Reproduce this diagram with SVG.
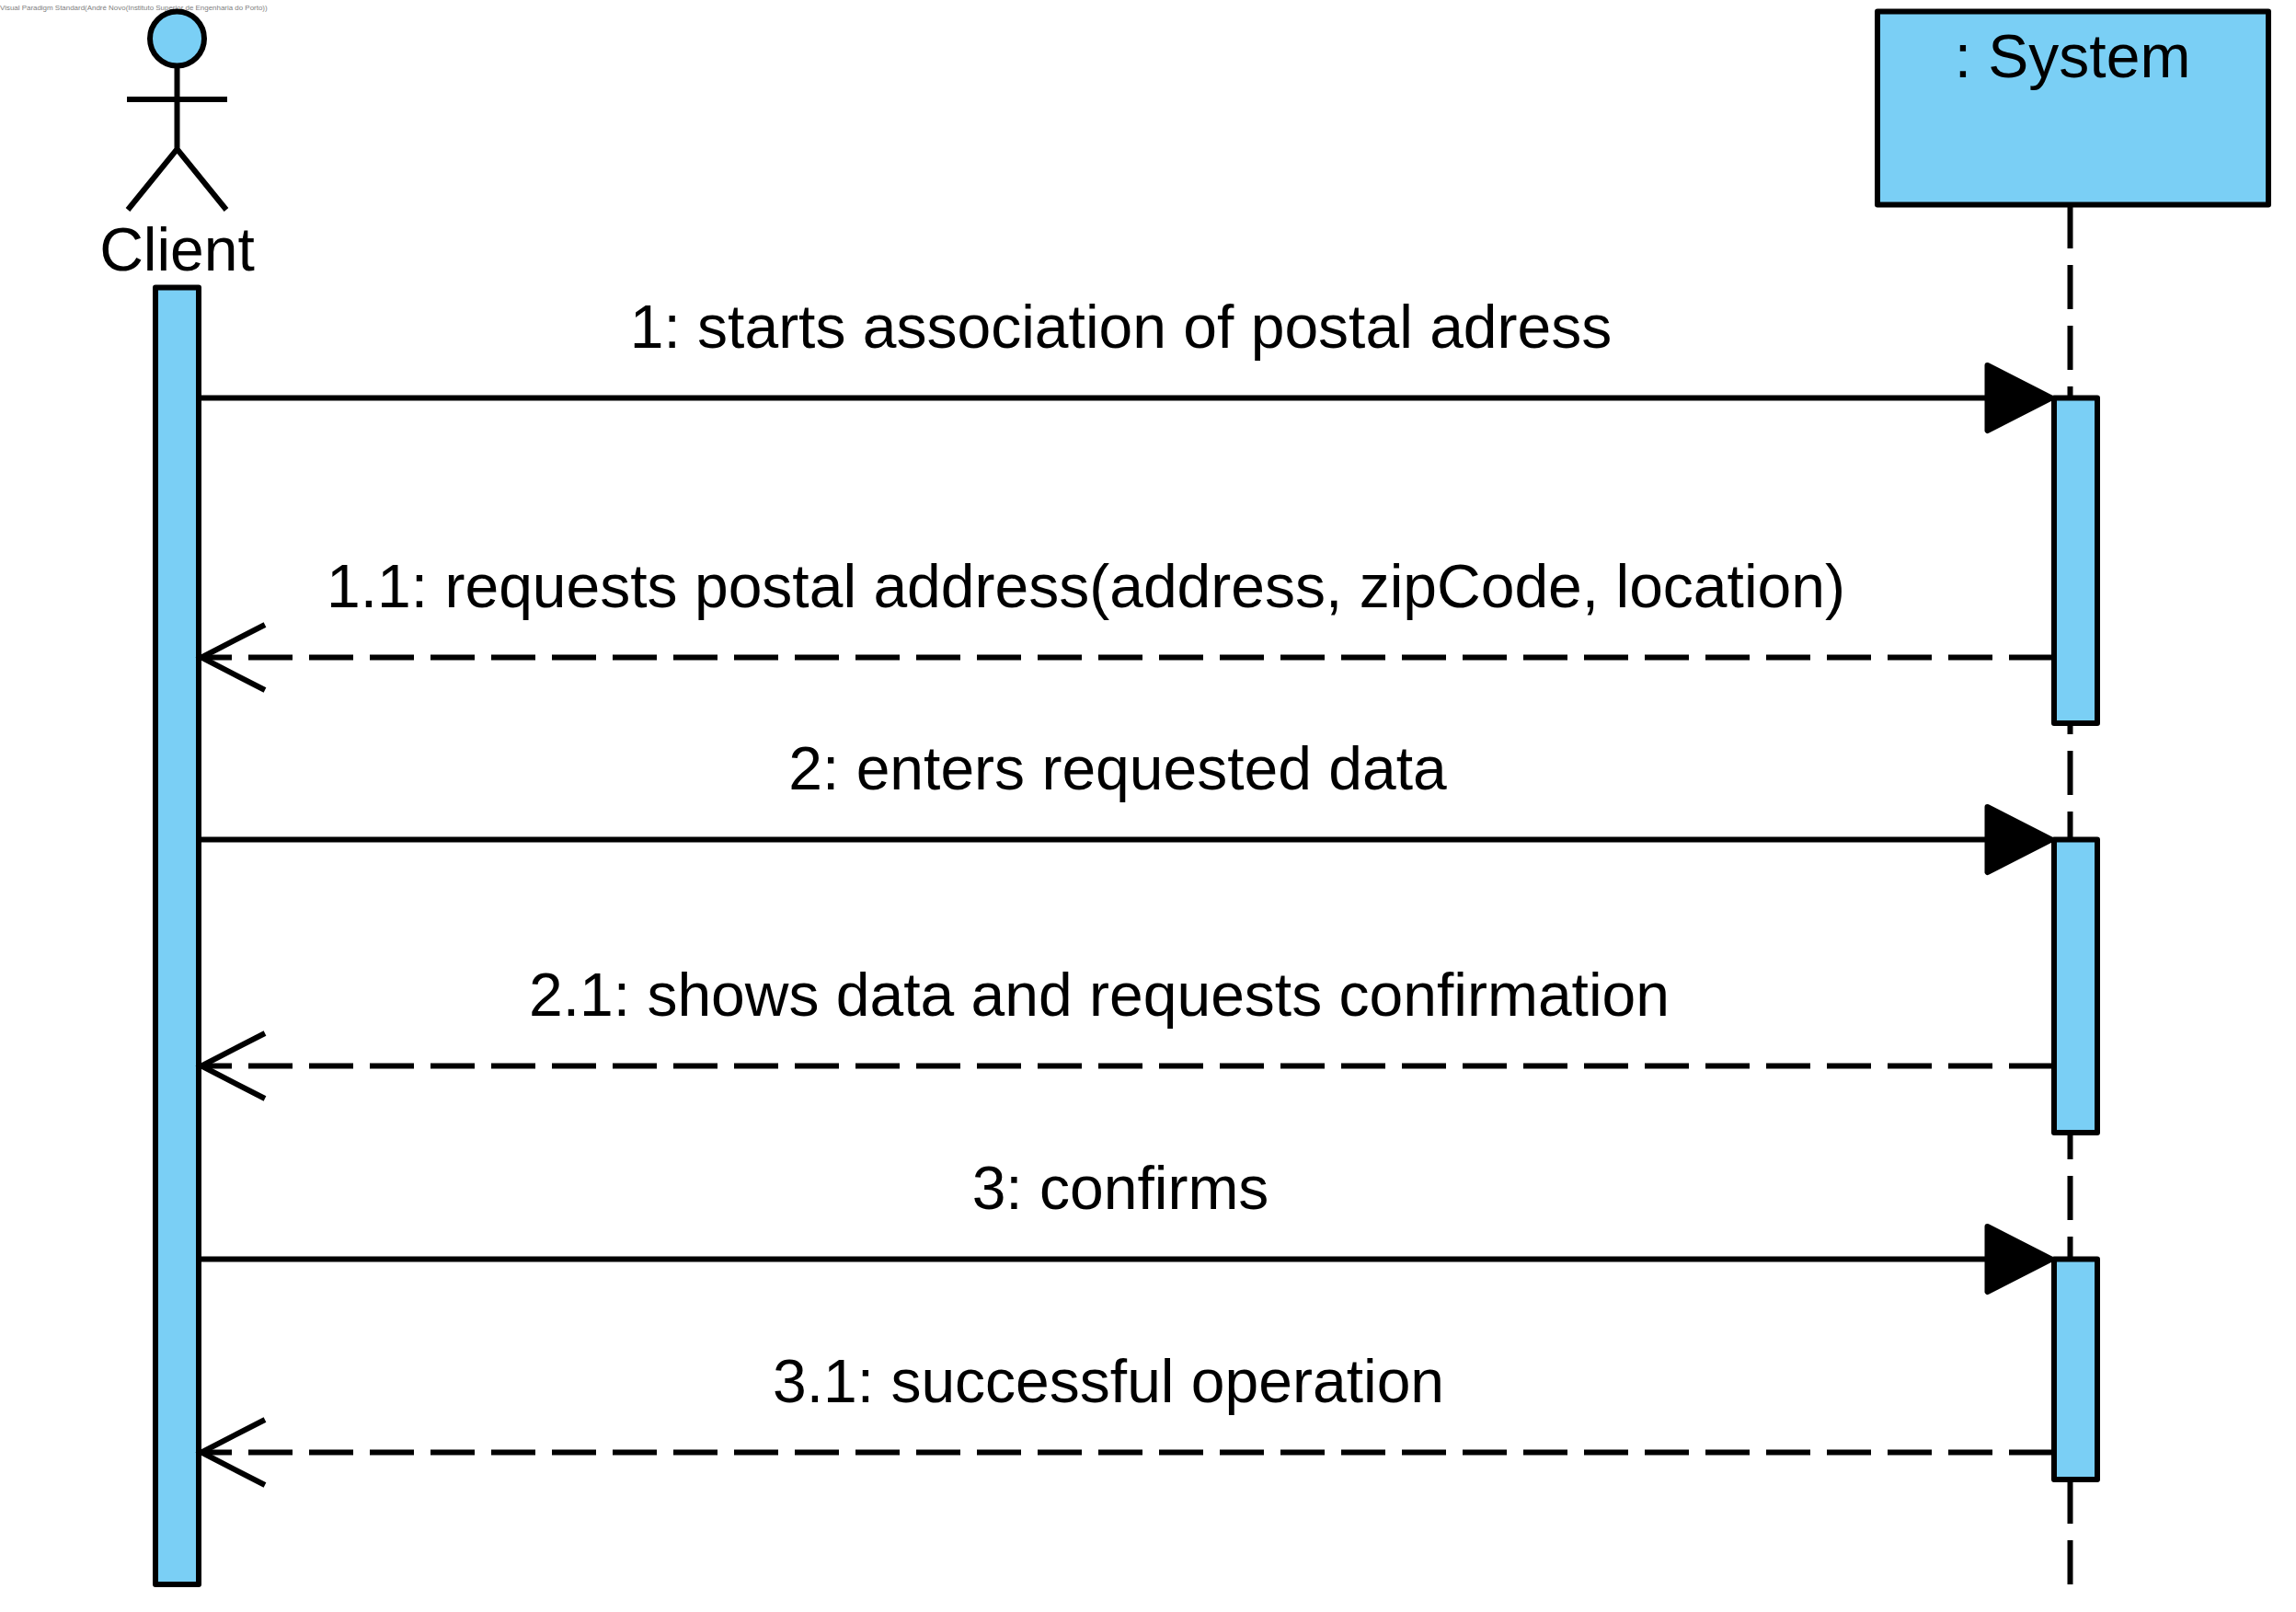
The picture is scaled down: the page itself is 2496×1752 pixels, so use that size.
<svg xmlns="http://www.w3.org/2000/svg" width="2496" height="1752" viewBox="0 0 2496 1752">
<style>
text{font-family:"Liberation Sans",Arial,sans-serif;fill:#000}
.lbl{font-size:66px;text-anchor:middle}
.box{fill:#7ACFF5;stroke:#000;stroke-width:6;stroke-linejoin:round}
.ln{fill:none;stroke:#000;stroke-width:6}
.dash{stroke-dasharray:48 18}
.solidhead{fill:#000;stroke:#000;stroke-width:6;stroke-linejoin:round}
</style>
<rect width="2496" height="1752" fill="#fff"/>
<text x="0" y="10.500" font-size="7.95" style="fill:#808080">Visual Paradigm Standard(André Novo(Instituto Superior de Engenharia do Porto))</text>
<g id="lifeline-system"><line class="ln dash" x1="2250.5" y1="222" x2="2250.5" y2="1722"/></g>
<g id="actor-client">
<circle class="box" cx="192.500" cy="42" r="29.500"/>
<path class="ln" d="M192.500 72V162M138 108H247M139 228L192.500 162L246 228"/>
<text class="lbl" x="192.500" y="294">Client</text>
</g>
<g id="activation-client"><rect class="box" x="169" y="312.500" width="47" height="1409.500"/></g>
<g id="system">
<rect class="box" x="2041" y="12.500" width="425" height="210"/>
<text class="lbl" x="2253" y="84">: System</text>
</g>
<g id="activation-1"><rect class="box" x="2233" y="432.500" width="47" height="353.500"/></g>
<g id="activation-2"><rect class="box" x="2233" y="912.500" width="47" height="318.500"/></g>
<g id="activation-3"><rect class="box" x="2233" y="1368.500" width="47" height="239.500"/></g>
<g id="connectors">
<line class="ln" x1="219" y1="432.500" x2="2165" y2="432.500"/>
<polygon class="solidhead" points="2160.500,397 2230,432.500 2160.500,468"/>
<line class="ln dash" x1="2232" y1="714.500" x2="219" y2="714.500"/>
<path class="ln" d="M288 679L219 714.500L288 750"/>
<line class="ln" x1="219" y1="912.500" x2="2165" y2="912.500"/>
<polygon class="solidhead" points="2160.500,877 2230,912.500 2160.500,948"/>
<line class="ln dash" x1="2232" y1="1158.500" x2="219" y2="1158.500"/>
<path class="ln" d="M288 1123L219 1158.500L288 1194"/>
<line class="ln" x1="219" y1="1368.500" x2="2165" y2="1368.500"/>
<polygon class="solidhead" points="2160.500,1333 2230,1368.500 2160.500,1404"/>
<line class="ln dash" x1="2232" y1="1578.500" x2="219" y2="1578.500"/>
<path class="ln" d="M288 1543L219 1578.500L288 1614"/>
</g>
<g id="labels">
<text class="lbl" x="1218.500" y="378">1: starts association of postal adress</text>
<text class="lbl" x="1180.500" y="660">1.1: requests postal address(address, zipCode, location)</text>
<text class="lbl" x="1215" y="858">2: enters requested data</text>
<text class="lbl" x="1195" y="1104">2.1: shows data and requests confirmation</text>
<text class="lbl" x="1218" y="1313.500">3: confirms</text>
<text class="lbl" x="1205" y="1524">3.1: successful operation</text>
</g>
</svg>
